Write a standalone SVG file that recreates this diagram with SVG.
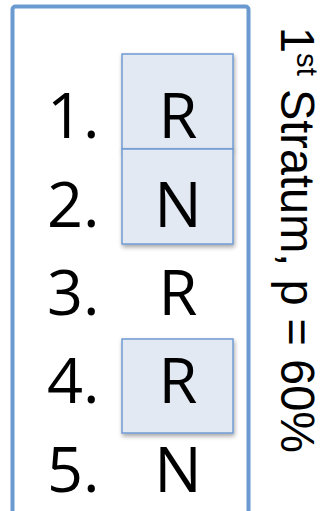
<svg xmlns="http://www.w3.org/2000/svg" width="326" height="511" viewBox="0 0 326 511">
  <defs>
    <filter id="sh" x="-20%" y="-20%" width="140%" height="140%">
      <feDropShadow dx="1" dy="2.5" stdDeviation="2" flood-color="#000" flood-opacity="0.35"/>
    </filter>
    <style>
      .frame { fill: #ffffff; stroke: #6a9acf; stroke-width: 4; }
      .box { fill: #e2e9f3; stroke: #6f9bd3; stroke-width: 1.5; filter: url(#sh); }
      .t { font-family: "Open Sans", "Liberation Sans", sans-serif; font-size: 63px; fill: #000; }
      .c { text-anchor: middle; }
      .side { font-family: "Liberation Sans", Arial, sans-serif; font-size: 48px; fill: #000; }
    </style>
  </defs>
  <rect width="326" height="511" fill="#ffffff"/>
  <g id="frame">
    <rect class="frame" x="12.5" y="6.5" width="236" height="530" rx="3"/>
  </g>
  <g id="box1">
    <rect class="box" x="122" y="54" width="111" height="95"/>
    <text class="t c" x="178" y="138">R</text>
  </g>
  <g id="box2">
    <rect class="box" x="122" y="149" width="111" height="95"/>
    <text class="t c" x="178" y="227">N</text>
  </g>
  <g id="box4">
    <rect class="box" x="122" y="339" width="111" height="94"/>
    <text class="t c" x="178" y="403">R</text>
  </g>
  <g id="row3">
    <text class="t c" x="178" y="315">R</text>
  </g>
  <g id="row5">
    <text class="t c" x="178" y="492">N</text>
  </g>
  <g id="numbers">
    <text class="t" x="47" y="138">1.</text>
    <text class="t" x="47" y="227">2.</text>
    <text class="t" x="47" y="315">3.</text>
    <text class="t" x="47" y="403">4.</text>
    <text class="t" x="47" y="492">5.</text>
  </g>
  <g id="label">
    <text class="side" transform="translate(281,27) rotate(90)" textLength="426" lengthAdjust="spacingAndGlyphs">1<tspan font-size="30" dy="-16">st</tspan><tspan dy="16"> Stratum, p = 60%</tspan></text>
  </g>
  <g id="connectors"/>
</svg>
